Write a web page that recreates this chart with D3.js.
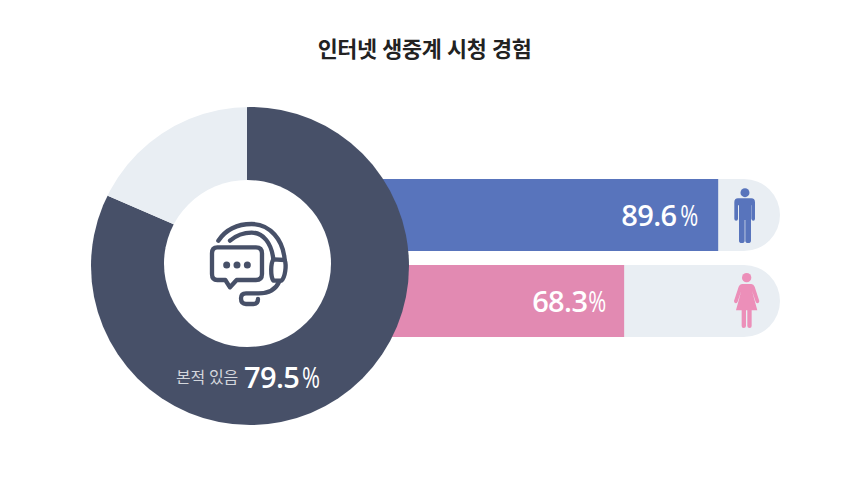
<!DOCTYPE html>
<html lang="ko"><head><meta charset="utf-8">
<script src="https://cdn.jsdelivr.net/npm/d3@7"></script>
<style>html,body{margin:0;background:#fff;overflow:hidden}svg{display:block}</style>
</head><body><svg id="c" width="853" height="504"></svg>
<script>
const titleText = "인터넷 생중계 시청 경험";
const donutLabel = "본적 있음";
const donutValueLabel = "79.5";
const donutSlices = [81.5, 18.5];
const donutColors = ["#475068", "#e9eef3"];
const barGroups = ["남성", "여성"];
const barValues = [89.6, 68.3];
const barLabels = ["89.6", "68.3"];
const barColors = ["#5874bc", "#e28ab2"];
const iconColors = ["#5874bc", "#ec8fb9"];
const trackMax = 103.6;

const svg = d3.select("#c");
const KR = "'Noto Sans CJK KR'";
const NUM = "'Open Sans'";

svg.append("text").attr("x",424.5).attr("y",57).attr("text-anchor","middle")
  .attr("font-family",KR).attr("font-weight",700).attr("font-size",21.8).attr("letter-spacing",-0.4)
  .attr("fill","#222").text(titleText);

function numberLabel(sel, px, py, value, percentX) {
  const g = sel.append("g").attr("fill","#fff").attr("font-family",NUM);
  g.append("text").attr("x",px).attr("y",py).attr("font-weight",600).attr("font-size",29).attr("letter-spacing",-0.6).text(value);
  g.append("text").attr("x",percentX).attr("y",py).attr("font-weight",400).attr("font-size",29)
    .attr("textLength",18).attr("lengthAdjust","spacingAndGlyphs").text("%");
}

// bars
const x = d3.scaleLinear().domain([0,trackMax]).range([322.6,780]);
const y = d3.scaleBand().domain(barGroups).range([179,337]).paddingInner(14/86);
const defs = svg.append("defs");
const bars = svg.append("g").selectAll("g").data(barGroups).join("g");
bars.each(function(g,i){
  const sel = d3.select(this), h = y.bandwidth(), y0 = y(g);
  const id = "t"+i;
  const path = `M${x(0)},${y0}H${x(trackMax)-h/2}A${h/2},${h/2} 0 0 1 ${x(trackMax)-h/2},${y0+h}H${x(0)}Z`;
  defs.append("clipPath").attr("id",id).append("path").attr("d",path);
  sel.append("path").attr("d",path).attr("fill","#e9eef3");
  sel.append("rect").attr("clip-path",`url(#${id})`).attr("x",x(0)).attr("y",y0)
    .attr("width",x(barValues[i])-x(0)).attr("height",h).attr("fill",barColors[i]);
  numberLabel(sel, x(barValues[i])-(i?92:97), y0+h/2+11, barLabels[i], x(barValues[i])-(i?36:38));
});

// icons, drawn in a 3x space
const man = svg.append("g").attr("transform","translate(600,170) scale(.3333)").attr("fill",iconColors[0]);
man.append("circle").attr("cx",435).attr("cy",68).attr("r",13.5);
man.append("path").attr("d","M414 85H454Q465 85 465 97V146Q465 152 460 152Q455 152 454 146V106H453V212Q453 219 444.500 219Q436 219 436 212V150H434V212Q434 219 425.500 219Q417 219 417 212V106H414V146Q414 152 408.500 152Q403 152 403 146V97Q403 85 414 85Z");
const woman = svg.append("g").attr("transform","translate(600,170) scale(.3333)").attr("fill",iconColors[1]);
woman.append("circle").attr("cx",440).attr("cy",323).attr("r",14);
woman.append("path").attr("d","M426 342H454Q461 342 464 350L478 393Q478 399 473 400Q469 400 467 395L456 362L472 421H455V468Q455 474 449 474Q442 474 442 468V421H438V468Q438 474 431 474Q425 474 425 468V421H408L424 362L413 395Q411 400 407 400Q402 399 402 393L416 350Q419 342 426 342Z");

// donut
const cx = 250, cy = 266, R = 159;
defs.append("clipPath").attr("id","disc").append("circle").attr("cx",cx).attr("cy",cy).attr("r",R);
const pie = d3.pie().sort(null)(donutSlices);
const arc = d3.arc().innerRadius(0).outerRadius(240);
svg.append("g").attr("clip-path","url(#disc)")
  .append("g").attr("transform","translate(247,256)")
  .selectAll("path").data(pie).join("path").attr("d",arc).attr("fill",(d,i)=>donutColors[i]);
svg.append("circle").attr("cx",247.5).attr("cy",263.5).attr("r",83.5).attr("fill","#fff");

// headset icon
const ic = svg.append("g").attr("transform","translate(190,200) scale(.3333)")
  .attr("fill","none").attr("stroke",donutColors[0]).attr("stroke-width",13).attr("stroke-linecap","round").attr("stroke-linejoin","round");
ic.append("path").attr("d","M85 122C110 85 150 72 185 72C240 72 280 120 284 180");
ic.append("path").attr("d","M120 122C140 105 165 98 185 98C220 98 245 130 250 178");
ic.append("path").attr("d","M250 178C242 190 241 228 250 242H274C286 232 290 195 284 180Z");
ic.append("path").attr("d","M268 244C258 268 235 280 205 280H168Q153 280 153 295Q153 312 168 312H190Q204 312 204 297");
ic.append("path").attr("d","M82 142H198Q216 142 216 160V222Q216 240 198 240H140L120 262L106 240H82Q66 240 66 222V160Q66 142 82 142Z");
ic.selectAll("circle").data(["a","b","c"]).join("circle").attr("cx",(d,i)=>110+i*31).attr("cy",195).attr("r",10.500).attr("fill",donutColors[0]).attr("stroke","none");

// donut label
svg.append("text").attr("x",176).attr("y",383).attr("font-family",KR).attr("font-size",16).attr("letter-spacing",-0.3).attr("fill","#d3d6dc").text(donutLabel);
numberLabel(svg, 244, 387.5, donutValueLabel, 302);
</script></body></html>
